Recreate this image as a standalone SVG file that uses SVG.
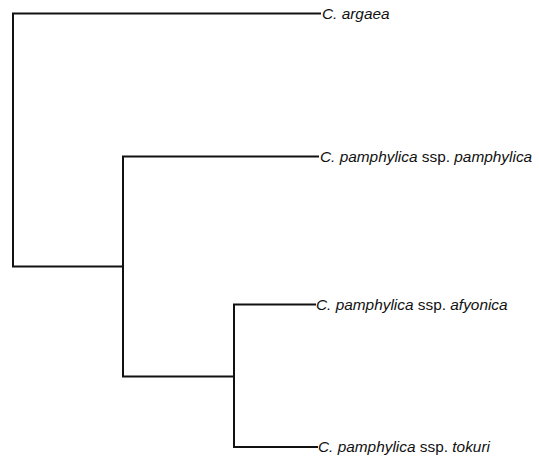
<svg xmlns="http://www.w3.org/2000/svg" width="539" height="462" viewBox="0 0 539 462">
<style>
.e{fill:none;stroke:#111;stroke-width:2;stroke-linecap:square}
text{font-family:"Liberation Sans",Arial,sans-serif;font-size:15.4px;fill:#111}
.i{font-style:italic}
</style>
<rect width="539" height="462" fill="#fff"/>
<g id="connectors">
<path class="e" d="M320,13.5H13V266.5H123"/>
<path class="e" d="M318,156.5H123V376.5H234"/>
<path class="e" d="M315,304.5H234V447H317"/>
</g>
<g id="argaea"><text x="322" y="18.5" class="i">C. argaea</text></g>
<g id="pamphylica"><text x="320" y="162"><tspan class="i">C. pamphylica</tspan> ssp. <tspan class="i">pamphylica</tspan></text></g>
<g id="afyonica"><text x="316" y="309.5"><tspan class="i">C. pamphylica</tspan> ssp. <tspan class="i">afyonica</tspan></text></g>
<g id="tokuri"><text x="318" y="452"><tspan class="i">C. pamphylica</tspan> ssp. <tspan class="i">tokuri</tspan></text></g>
</svg>
